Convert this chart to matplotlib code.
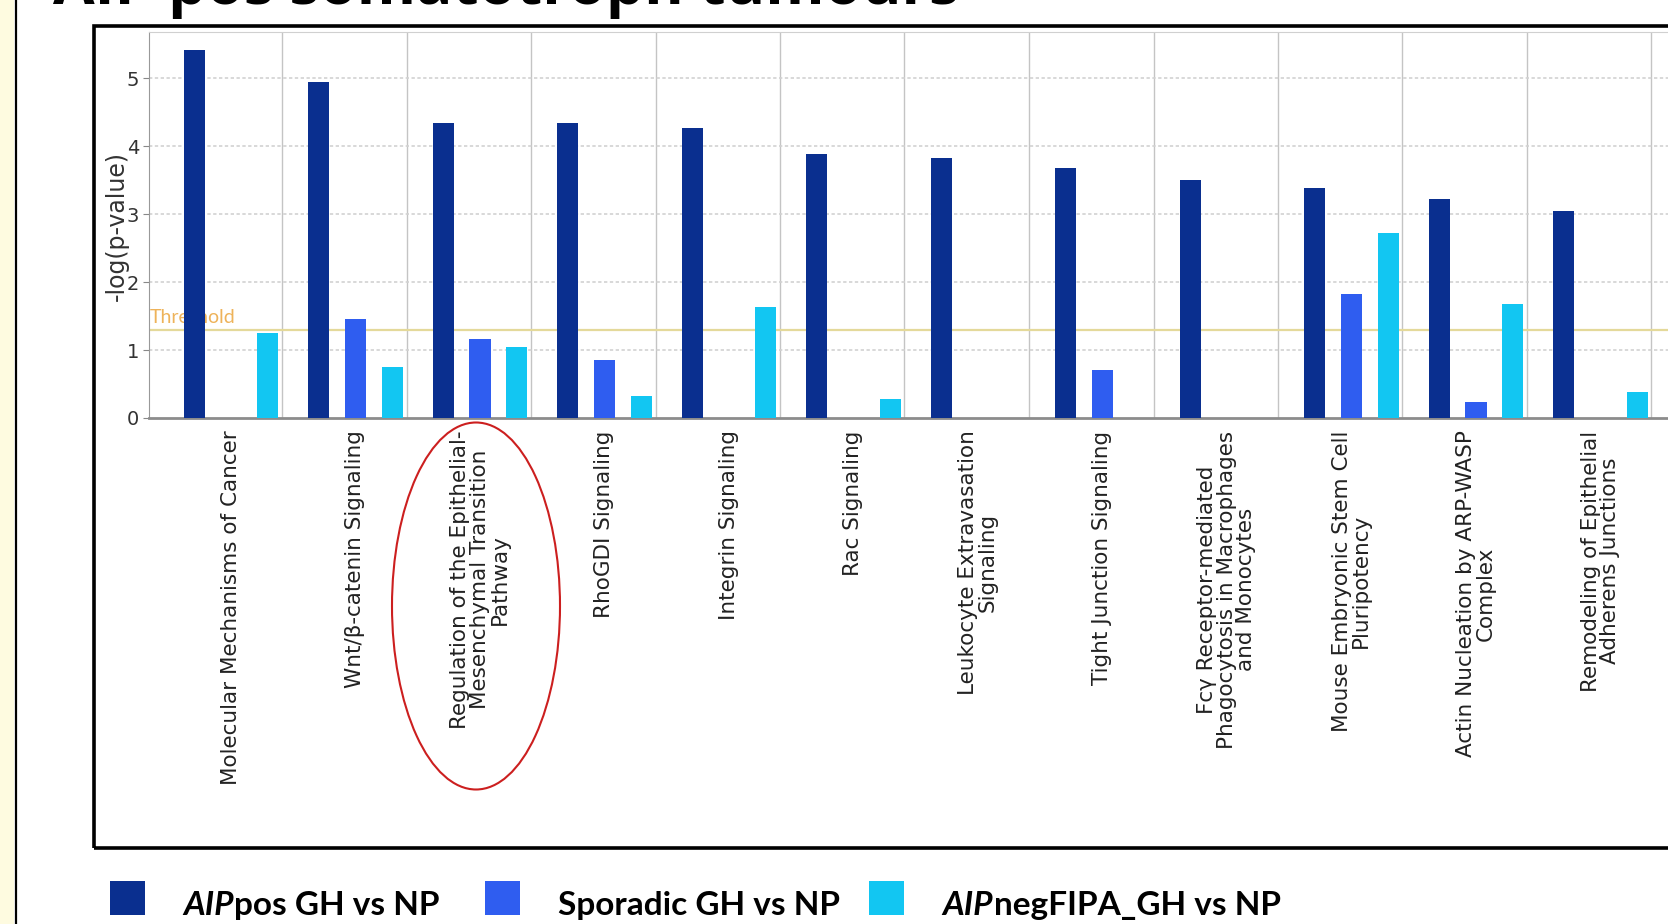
import numpy as np
import matplotlib
matplotlib.use("Agg")
import matplotlib.pyplot as plt
from matplotlib.patches import Rectangle, Ellipse

# pathway names (x axis)
pathways = [
    "Molecular Mechanisms of Cancer",
    "Wnt/β-catenin Signaling",
    "Regulation of the Epithelial-\nMesenchymal Transition\nPathway",
    "RhoGDI Signaling",
    "Integrin Signaling",
    "Rac Signaling",
    "Leukocyte Extravasation\nSignaling",
    "Tight Junction Signaling",
    "Fcγ Receptor-mediated\nPhagocytosis in Macrophages\nand Monocytes",
    "Mouse Embryonic Stem Cell\nPluripotency",
    "Actin Nucleation by ARP-WASP\nComplex",
    "Remodeling of Epithelial\nAdherens Junctions",
]

# -log(p-value) per group, nan = no bar
aip_pos = [5.41, 4.94, 4.34, 4.34, 4.27, 3.88, 3.83, 3.67, 3.50, 3.38, 3.22, 3.05]
sporadic = [np.nan, 1.45, 1.16, 0.86, np.nan, np.nan, np.nan, 0.70, np.nan, 1.83, 0.23, np.nan]
aip_neg = [1.25, 0.75, 1.05, 0.33, 1.63, 0.28, np.nan, np.nan, np.nan, 2.72, 1.67, 0.38]

threshold = 1.3
yticks = [0, 1, 2, 3, 4, 5]

c_dark = "#0a2f8f"
c_mid = "#2f5df0"
c_cyan = "#12c6f2"

W, H = 1668, 924
fig = plt.figure(figsize=(W / 100, H / 100), dpi=100)
fig.patch.set_facecolor("white")

def fx(px):
    return px / W

def fy(py):
    # py measured from top of the image
    return 1 - py / H

# slide decoration: yellow strip and black line on the left
fig.patches.append(Rectangle((0, 0), fx(14), 1, transform=fig.transFigure,
                             facecolor="#fefbe0", edgecolor="none", zorder=0))
fig.lines.append(plt.Line2D([fx(15.5), fx(15.5)], [0, 1], transform=fig.transFigure,
                            color="black", lw=1.6))

# black frame around the chart image (runs off the right edge)
fig.patches.append(Rectangle((fx(94), fy(848)), fx(1700), fy(26) - fy(848),
                             transform=fig.transFigure, facecolor="none",
                             edgecolor="black", lw=2.6, zorder=5))

# title, cut off at the top of the slide
fig.text(fx(53), fy(4), "AIP pos somatotroph tumours", fontsize=43.5,
         fontweight="bold", family="Open Sans", va="baseline", ha="left")

# plot area
x0, x_zero, top = 149, 418, 32
ax = fig.add_axes([fx(x0), fy(x_zero), 1 - fx(x0), fy(top) - fy(x_zero)])
cat0, catw = 157.5, 124.5
ax.set_xlim((x0 - cat0) / catw, (W - cat0) / catw)
ax.set_ylim(0, (x_zero - top) / 68.0)

x = np.arange(len(pathways))
bw = 0.17
ax.bar(x + 0.295, aip_pos, bw, color=c_dark, zorder=3)
ax.bar(x + 0.59, sporadic, bw, color=c_mid, zorder=3)
ax.bar(x + 0.885, aip_neg, bw, color=c_cyan, zorder=3)

# category separators and dotted grid
for i in range(1, len(pathways) + 1):
    ax.axvline(i, color="#c4c4c4", lw=1, zorder=1)
for v in yticks[1:]:
    ax.axhline(v, color="#d2d2d2", lw=1.2, ls=(0, (2, 1.5)), zorder=1)

ax.axhline(threshold, color="#e4d99a", lw=1.6, zorder=2)
ax.text(-0.065, threshold + 0.06, "Threshold", color="#eeb35a", fontsize=14,
        family="Lato", va="bottom", ha="left", zorder=2)

ax.set_yticks(yticks)
ax.set_yticklabels([str(v) for v in yticks], fontsize=14, color="#333333")
ax.tick_params(axis="y", length=4, color="#888888", pad=3)
ax.set_xticks(x + 0.59)
ax.set_xticklabels(pathways, rotation=90, fontsize=15.5, color="#222222",
                   va="top", ha="center", multialignment="center",
                   linespacing=0.97)
ax.tick_params(axis="x", length=0, pad=9)

ax.spines["right"].set_visible(False)
ax.spines["top"].set_color("#d0d0d0")
ax.spines["left"].set_color("#999999")
ax.spines["bottom"].set_color("#8c8c8c")
ax.spines["bottom"].set_linewidth(2)

fig.text(fx(117), fy(226), "-log(p-value)", rotation=90, fontsize=17,
         color="#333333", ha="center", va="center")

# red ellipse around the EMT pathway label
fig.patches.append(Ellipse((fx(476), fy(606)), fx(168), fy(0) - fy(367),
                           transform=fig.transFigure, facecolor="none",
                           edgecolor="#cc1f1f", lw=1.5, zorder=6))

# legend below the frame
legend_items = [
    (110, c_dark, "AIP", "pos GH vs NP"),
    (485, c_mid, "", "Sporadic GH vs NP"),
    (869, c_cyan, "AIP", "negFIPA_GH vs NP"),
]
renderer = fig.canvas.get_renderer()
for sx, col, ital, rest in legend_items:
    fig.patches.append(Rectangle((fx(sx), fy(915)), fx(35), fy(881) - fy(915),
                                 transform=fig.transFigure, facecolor=col,
                                 edgecolor="none"))
    tx = sx + 73
    if ital:
        t = fig.text(fx(tx), fy(915), ital, fontsize=24, fontweight="bold",
                     style="italic", family="Lato", va="baseline", ha="left")
        bb = t.get_window_extent(renderer)
        tx = bb.x1 + 1
    fig.text(fx(tx), fy(915), rest, fontsize=24, fontweight="bold",
             family="Lato", va="baseline", ha="left")

fig.savefig("out.png", dpi=100)
